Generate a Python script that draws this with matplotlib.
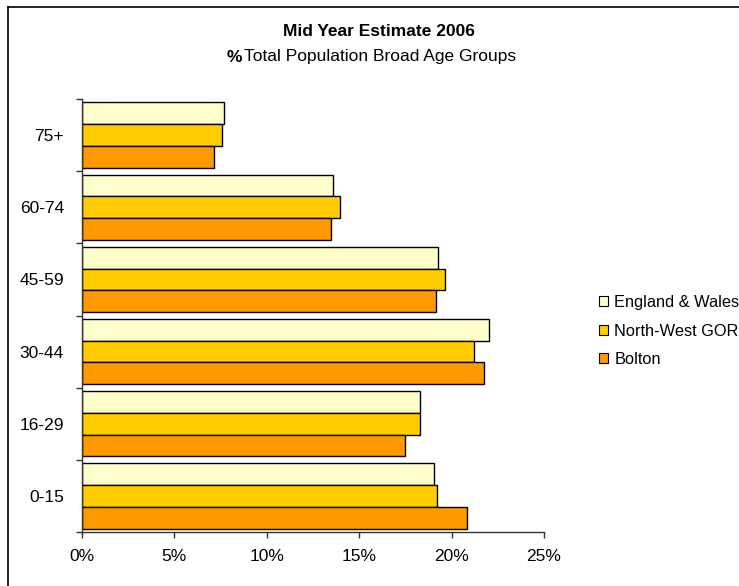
import matplotlib
matplotlib.use("Agg")
import matplotlib.pyplot as plt
from matplotlib.patches import Patch
from matplotlib.lines import Line2D
import numpy as np

plt.rcParams['font.family'] = ['Liberation Sans', 'DejaVu Sans']

categories = ["0-15", "16-29", "30-44", "45-59", "60-74", "75+"]
series_names = ["England & Wales", "North-West GOR", "Bolton"]
england_wales = [19.03, 18.27, 22.0, 19.25, 13.60, 7.70]
north_west = [19.23, 18.27, 21.23, 19.62, 13.98, 7.59]
bolton = [20.85, 17.48, 21.75, 19.17, 13.46, 7.13]
colors = ["#FFFFCC", "#FFCC00", "#FF9900"]
xticks = [0, 5, 10, 15, 20, 25]

FS = 12.5
W, H = 739, 586
fig = plt.figure(figsize=(W / 100, H / 100), dpi=100)
fig.patch.set_facecolor("white")
ax = fig.add_axes([82 / W, 1 - 532 / H, (544 - 82) / W, (532 - 99) / H])

y = np.arange(len(categories))
bh = 0.302
for vals, off, c in zip([england_wales, north_west, bolton], [bh, 0, -bh], colors):
    ax.barh(y + off, vals, height=bh, color=c, edgecolor="#000000", linewidth=1.0)

ax.set_xlim(0, 25)
ax.set_ylim(-0.5, len(categories) - 0.5)
ax.set_xticks(xticks)
ax.set_xticklabels([f"{t}%" for t in xticks], fontsize=FS)
ax.set_yticks(np.arange(-0.5, len(categories), 1.0))
ax.set_yticklabels([])
ax.set_yticks(y, minor=True)
ax.set_yticklabels(categories, minor=True, fontsize=FS)
ax.tick_params(axis="y", which="major", length=4, width=1, color="#333333", direction="out")
ax.tick_params(axis="y", which="minor", length=0, pad=13)
ax.tick_params(axis="x", length=4, width=1, color="#333333", direction="out", pad=8)
for s in ["top", "right"]:
    ax.spines[s].set_visible(False)
for s in ["left", "bottom"]:
    ax.spines[s].set_color("#333333")
    ax.spines[s].set_linewidth(1.0)

fig.text(379 / W, 1 - 32 / H, "Mid Year Estimate 2006", ha="center", va="center",
         fontsize=FS, fontweight="bold")
fig.text(234 / W, 1 - 57 / H, "%", ha="center", va="center", fontsize=FS, fontweight="bold")
fig.text(244 / W, 1 - 57 / H, "Total Population Broad Age Groups", ha="left", va="center",
         fontsize=FS)

handles = [Patch(facecolor=c, edgecolor="#000000", linewidth=0.8) for c in colors]
fig.legend(handles, series_names, loc="center left", bbox_to_anchor=(592 / W, 1 - 331 / H),
           frameon=False, fontsize=11.8, handlelength=0.6, handleheight=0.6,
           handletextpad=0.35, labelspacing=0.82, borderaxespad=0)

fig.add_artist(Line2D([7.5 / W, 7.5 / W], [0, 1 - 6.5 / H], transform=fig.transFigure,
                      color="black", linewidth=1.2))
fig.add_artist(Line2D([7.5 / W, 1], [1 - 6.5 / H, 1 - 6.5 / H], transform=fig.transFigure,
                      color="black", linewidth=1.2))

fig.savefig("out.png", dpi=100)
